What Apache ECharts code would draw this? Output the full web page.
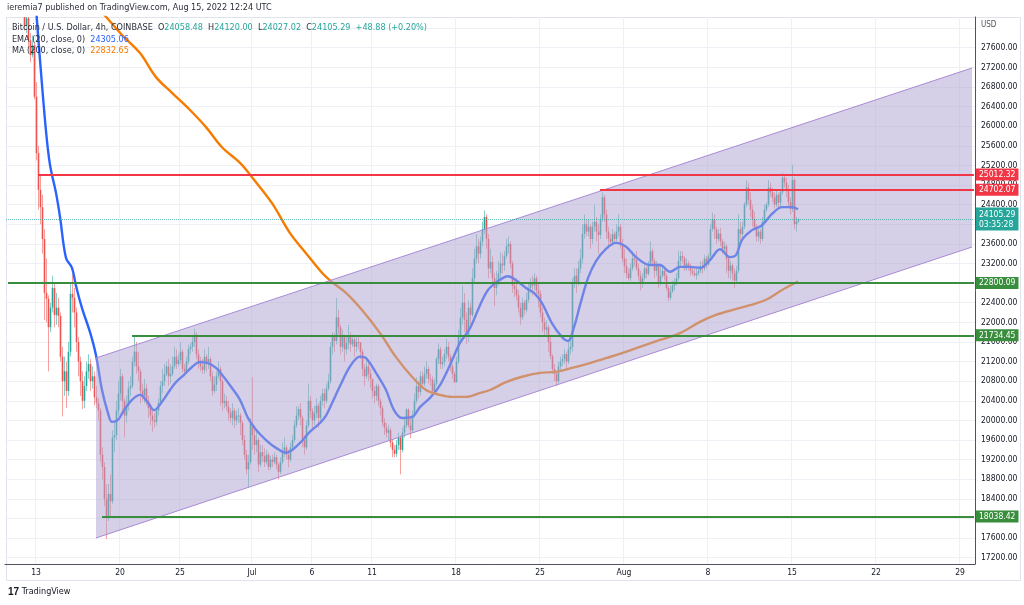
<!DOCTYPE html>
<html><head><meta charset="utf-8">
<script src="https://cdn.jsdelivr.net/npm/echarts@6/dist/echarts.min.js"></script>
<style>html,body{margin:0;padding:0;background:#fff}#c{width:1024px;height:605px}</style>
</head><body><div id="c"></div>
<script>
// ---------------- DATA ----------------
const firstCandleTime = '2022-06-10 12:00';   // UTC, 4h candles
const slotCount = 485;                          // time slots shown on the axis
const firstOpen = 30000;
const lastOpen = 24058.48;                      // open of the live candle (gap vs. prior close)

const closes = [
 29800,29500,29100,
 29300,29150,28950,29050,28800,28420,
 28050,28200,27750,27450,27650,26600,
 25450,24700,24350,23700,22600,22480,
 21900,22300,22700,22150,22300,22130,
 21300,20800,21000,20600,21400,22580,
 22500,22200,21600,21200,20800,20400,
 20700,21000,21150,20800,20900,20470,
 20350,20200,19300,19050,18400,18050,
 18500,18350,19650,19700,20200,20550,
 20900,20400,20100,20300,20650,20700,
 21200,21400,21100,21000,20600,20500,
 20650,20400,20250,20100,20000,19970,
 20200,20350,20700,20800,20950,21100,
 20900,20950,21100,21300,21150,21230,
 21400,21050,21000,21200,21450,21500,
 21600,21750,21350,21200,21100,21030,
 21300,21150,21250,20900,20600,20730,
 20900,21050,20800,20350,20400,20280,
 20150,20050,20200,20000,20100,20100,
 19950,19600,19300,19000,19150,19940,
 19700,19500,19600,19100,19350,19270,
 19150,19300,19050,19200,19150,19250,
 19100,18950,19150,19350,19450,19300,
 19200,19450,19600,19900,20100,20230,
 20050,19600,19450,19900,20400,20190,
 20000,20150,20300,20050,20400,20550,
 20400,20650,20800,21500,21700,21620,
 22100,21900,21500,21700,21450,21580,
 21700,21550,21650,21500,21600,21590,
 21400,21050,20900,21100,20950,20850,
 20600,20500,20700,20400,20250,19960,
 19850,19750,19800,19550,19400,19320,
 19500,19650,19400,19750,19900,20220,
 19900,19800,20100,20400,20700,20580,
 20900,20750,20950,21050,20850,20830,
 20600,20750,21250,21450,21150,21190,
 21350,21500,21300,21100,20950,20780,
 21200,21700,22100,22400,22050,21700,
 22300,22150,22900,23300,23550,23400,
 23650,23900,24150,23700,23100,23230,
 22900,22700,22850,23000,23200,23160,
 23350,23550,23600,23200,22750,22680,
 22550,22300,22100,22400,22250,22460,
 22700,22800,22750,22900,22650,22580,
 22200,22000,21850,21900,21600,21310,
 21050,20950,20800,21100,21200,21250,
 21350,21200,21450,21500,22800,22950,
 22800,23100,23300,23800,24000,23850,
 23950,23700,23950,24050,23850,23780,
 24100,24550,24200,23850,23700,23640,
 23800,23700,23850,23950,23600,23300,
 23150,23000,22900,23100,23300,23270,
 23100,22950,22800,22900,23100,22990,
 23200,23450,23250,23050,23150,22820,
 22950,23050,22950,22700,22500,22630,
 22750,22800,22900,23250,23350,23310,
 23100,23200,23150,23050,23000,22960,
 23000,23050,23150,23100,23300,23180,
 23350,23900,24100,23900,23700,23810,
 23650,23500,23550,23300,23050,23160,
 23000,22850,23050,23900,23800,23950,
 24400,24750,24500,24300,24100,23940,
 23750,23850,23700,24050,24300,24400,
 24750,24650,24550,24400,24600,24440,
 24650,24950,24850,24700,24450,24310,
 24900,24000,24056.41,24105.29
];
const highs = [
 30200,29900,29600,
 29400,29350,29200,29150,29100,28850,
 28550,28300,28250,27900,27850,27700,
 26900,25600,25000,24600,23900,23300,
 22550,22400,22950,22800,22600,22500,
 22200,21500,21300,21200,21600,22800,
 22980,22700,22300,21700,21300,21000,
 20900,21200,21350,21250,21100,21000,
 20700,20450,20250,19450,19150,18700,
 18700,18900,19800,20000,20400,20800,
 21050,20950,20450,20500,20800,20900,
 21300,21740,21600,21400,21050,20750,
 20850,20750,20500,20350,20200,20150,
 20250,20450,20800,21050,21150,21200,
 21250,21150,21300,21500,21450,21350,
 21600,21450,21150,21300,21550,21580,
 21700,21870,21800,21450,21300,21250,
 21450,21350,21500,21300,21000,20900,
 21000,21200,21100,20850,20550,20500,
 20400,20250,20350,20250,20200,20250,
 20150,20000,19700,19400,19300,20050,
 20880,19900,19800,19650,19500,19500,
 19430,19400,19350,19280,19300,19350,
 19300,19150,19250,19550,19650,19500,
 19400,19550,19700,20000,20290,20290,
 20350,20100,19700,20000,20750,20500,
 20250,20300,20450,20350,20500,20650,
 20650,20750,20950,21600,21800,21780,
 22500,22250,21950,21850,21750,21700,
 21950,21800,21750,21700,21700,21700,
 21600,21450,21150,21250,21200,21050,
 20850,20700,20750,20750,20450,20300,
 20050,19950,19900,19850,19600,19500,
 19600,19750,19700,19850,20050,20250,
 20250,20050,20200,20550,20880,20800,
 21000,21000,21100,21200,21100,20950,
 20900,20850,21300,21570,21500,21300,
 21450,21670,21600,21350,21150,21000,
 21300,21850,22300,22750,22600,22200,
 22450,22400,23100,23500,23800,23700,
 23750,24050,24280,24200,23800,23500,
 23350,23000,23050,23250,23430,23400,
 23450,23700,23750,23650,23250,22900,
 22900,22650,22400,22500,22450,22600,
 22800,22900,22950,23000,22950,22800,
 22650,22300,22100,22050,21950,21700,
 21350,21150,21000,21200,21300,21350,
 21450,21400,21600,21650,22900,23100,
 23100,23250,23500,24000,24200,24100,
 24100,24000,24050,24400,24150,24000,
 24200,24650,24600,24300,23950,23800,
 23900,23850,24000,24200,24000,23700,
 23500,23300,23100,23200,23450,23400,
 23450,23200,23050,23000,23200,23150,
 23250,23650,23500,23300,23250,23200,
 23200,23150,23100,23000,22750,22750,
 22850,22900,23000,23450,23450,23450,
 23350,23300,23250,23200,23150,23100,
 23100,23150,23250,23250,23380,23350,
 23400,24000,24240,24200,23950,23900,
 23930,23700,23650,23600,23350,23250,
 23200,23100,23150,24200,24050,24050,
 24450,24900,24850,24650,24400,24250,
 24000,23950,23900,24150,24400,24450,
 24900,24850,24750,24650,24700,24650,
 24700,25050,25000,24950,24800,24550,
 25210,24950,24150,24120.00
];
const lows = [
 29500,29300,29000,
 29000,29000,28850,28900,28700,28350,
 27950,27900,27600,27300,27400,26550,
 25300,24300,24000,23400,22050,22000,
 21000,21800,22200,21900,21950,21900,
 21200,20080,20500,20250,20500,21300,
 22200,21900,21400,20900,20500,20230,
 20250,20600,20850,20600,20650,20300,
 20250,20000,19150,18800,18250,17580,
 17950,18050,18300,19350,19600,20100,
 20400,20200,19650,19950,20200,20500,
 20650,21100,20950,20800,20350,20400,
 20350,20300,20050,19900,19770,19850,
 19900,20100,20300,20550,20700,20900,
 20700,20750,20900,21050,21050,21100,
 21150,20980,20900,20950,21150,21350,
 21400,21500,21250,21050,21000,20950,
 20950,21000,21050,20800,20500,20550,
 20600,20850,20300,20200,20250,20200,
 20000,19950,19900,19850,19900,19950,
 19700,19500,19200,18900,18630,19100,
 19400,19300,19350,18950,19050,19150,
 19050,19100,18980,19000,19050,19100,
 19000,18800,18900,19100,19250,19200,
 19040,19150,19400,19550,19850,20000,
 19900,19450,19300,19400,19850,20050,
 19780,19900,20050,19850,20000,20300,
 20250,20350,20600,20750,21350,21400,
 21550,21750,21350,21400,21200,21350,
 21450,21400,21500,21300,21400,21450,
 21250,20900,20700,20850,20800,20650,
 20450,20350,20400,20300,20100,19880,
 19700,19650,19600,19450,19250,19250,
 19250,19400,18900,19350,19650,19850,
 19850,19640,19750,20050,20350,20450,
 20500,20650,20700,20850,20750,20700,
 20490,20550,20700,21150,21050,21050,
 21100,21250,21200,21000,20850,20760,
 20770,21150,21600,21950,21800,21550,
 21600,21950,22100,22800,23200,23200,
 23300,23550,23800,23500,22900,23000,
 22800,22330,22550,22750,22900,23000,
 23050,23300,23400,23100,22600,22520,
 22450,22200,21950,22050,22150,22200,
 22400,22600,22550,22650,22550,22300,
 22100,21800,21700,21750,21400,21250,
 20950,20800,20700,20750,21000,21100,
 21150,21050,21150,21350,21400,22700,
 22600,22750,23000,23200,23700,23750,
 23750,23500,23600,23850,23650,23400,
 23700,24050,24050,23700,23500,23550,
 23550,23600,23650,23750,23500,23230,
 23000,22900,22850,22850,23050,23150,
 23050,22850,22650,22700,22850,22900,
 22950,23150,23150,22900,22950,22700,
 22750,22900,22850,22650,22430,22450,
 22600,22650,22750,22850,23150,23200,
 23050,23050,23050,22950,22950,22930,
 22870,22950,23000,23000,23050,23100,
 23150,23300,23850,23700,23600,23650,
 23550,23400,23400,23000,22900,22880,
 22850,22700,22800,23000,23650,23700,
 23900,24350,24400,24150,23950,23900,
 23650,23650,23600,23650,24000,24250,
 24350,24550,24450,24320,24350,24350,
 24350,24600,24750,24550,24350,24200,
 24250,23900,23850,24027.02
];

// EMA(20) and MA(200): [candle slot, value]
const emaSlots = [15,17,20,22,25,27,30,33,35,38,42,45,48,51,53,56,59,63,67,71,74,78,82,85,89,93,97,101,105,108,113,117,121,125,130,135,140,147,152,157,160,163,167,172,177,180,185,190,194,198,203,207,212,217,222,227,232,237,241,246,251,255,260,264,268,273,278,281,284,287,291,295,300,305,310,315,322,327,332,337,342,347,352,357,362,365,368,373,378,383,388,393,396];
const emaValues = [28410,27350,25900,25210,24640,24150,23310,23110,22740,22290,21800,21330,20620,20150,19970,20010,20210,20420,20520,20360,20210,20380,20620,20780,20930,21090,21190,21170,21070,20930,20660,20420,20050,19810,19600,19440,19340,19540,19770,19950,20100,20350,20700,21100,21300,21270,20970,20620,20210,20050,20070,20270,20460,20720,21130,21580,21880,22350,22660,22840,22940,22860,22700,22600,22390,21980,21700,21620,21900,22350,22900,23250,23500,23620,23540,23330,23170,23170,23030,23130,23130,23110,23270,23490,23330,23370,23680,23880,23980,24210,24350,24350,24305.06];
const maSlots = [47,50,58,67,75,83,92,100,108,117,123,133,142,150,158,163,170,178,187,195,203,210,217,223,230,237,242,250,258,267,275,283,292,300,308,317,327,337,347,355,363,372,380,388,396];
const maValues = [28370,28230,27860,27490,27000,26680,26330,25980,25570,25250,24960,24430,23820,23410,23010,22820,22600,22250,21780,21290,20890,20620,20520,20480,20480,20560,20620,20780,20890,20970,20990,21070,21170,21270,21370,21500,21640,21780,22010,22150,22250,22350,22460,22660,22832.65];

// Horizontal levels (price, start time)
const levelPrices = [25012.32, 24702.07, 22800.09, 21734.45, 18038.42];
const levelStarts = ['2022-06-13 04:00','2022-07-30 00:00','2022-06-10 16:00','2022-06-21 00:00','2022-06-18 12:00'];
const countdown = '03:35:28';

// Parallel channel
const channelTimes = ['2022-06-18 00:00','2022-08-30 00:00'];
const channelUpper = [21273, 27186];
const channelLower = [17603, 23536];

// Axis ticks
const tickDates = ['2022-06-13','2022-06-20','2022-06-25','2022-07-01','2022-07-06','2022-07-11','2022-07-18','2022-07-25','2022-08-01','2022-08-08','2022-08-15','2022-08-22','2022-08-29'];
const tickLabels = ['13','20','25','Jul','6','11','18','25','Aug','8','15','22','29'];
const priceTicks = [];
for (let v = 17200; v <= 27600; v += 400) priceTicks.push(v);
const gridTicks = priceTicks.concat([28000]);
const emaName = 'EMA (20, close, 0)', maName = 'MA (200, close, 0)';

// ---------------- BUILD ----------------
const H4 = 4 * 3600 * 1000;
const t0 = Date.parse(firstCandleTime.replace(' ', 'T') + ':00Z');
const slotOf = s => Math.round((Date.parse((s.length === 10 ? s + ' 00:00' : s).replace(' ', 'T') + ':00Z') - t0) / H4);
const categories = Array.from({length: slotCount}, (_, i) => new Date(t0 + i * H4).toISOString().slice(0, 16));
const tickMap = {};
tickDates.forEach((d, k) => { tickMap[slotOf(d)] = tickLabels[k]; });

const lastI = closes.length - 1;
const candleData = closes.map((c, i) => {
  const o = i === 0 ? firstOpen : (i === lastI ? lastOpen : closes[i - 1]);
  return [i, o, c, lows[i], highs[i]];
});
const lastClose = closes[lastI];
const change = lastClose - closes[lastI - 1];

const FONT = "'Liberation Sans Narrow','DejaVu Sans Condensed','Liberation Sans',sans-serif";
const UP = '#26a69a', DOWN = '#ef5350', RED = '#f23645', GREEN = '#388e3c';

const levelLines = levelPrices.map((p, k) => {
  const col = p > lastClose ? RED : GREEN;
  return [
    { coord: [slotOf(levelStarts[k]), p], lineStyle: { color: col, width: 2, type: 'solid' },
      label: { show: true, position: 'end', distance: 2, formatter: p.toFixed(2), backgroundColor: col,
               color: '#fff', padding: [2, 3, 1, 3], fontSize: 8.5, fontFamily: FONT } },
    { coord: [slotCount - 1, p] }
  ];
});
levelLines.push([
  { coord: [0, lastClose], lineStyle: { color: 'rgba(38,166,154,0.7)', width: 1, type: 'dotted' },
    label: { show: true, position: 'end', distance: 2,
             formatter: '{a|' + lastClose.toFixed(2) + '}\n{a|' + countdown + '}',
             backgroundColor: UP, padding: [2, 3, 1, 3],
             rich: { a: { color: '#fff', fontSize: 8.5, lineHeight: 10, fontFamily: FONT } } } },
  { coord: [slotCount - 1, lastClose] }
]);

const cS = slotOf(channelTimes[0]), cE = slotOf(channelTimes[1]);

function renderCandle(params, api) {
  const i = api.value(0), o = api.value(1), c = api.value(2), l = api.value(3), h = api.value(4);
  const pO = api.coord([i, o]), pC = api.coord([i, c]), pL = api.coord([i, l]), pH = api.coord([i, h]);
  const x = Math.round(pO[0]) + 0.5;
  const col = c >= o ? UP : DOWN;
  const top = Math.min(pO[1], pC[1]), bh = Math.max(1, Math.abs(pO[1] - pC[1]));
  return { type: 'group', children: [
    { type: 'line', shape: { x1: x, y1: pH[1], x2: x, y2: pL[1] }, style: { stroke: col, lineWidth: 1, opacity: 0.55 } },
    { type: 'rect', shape: { x: x - 0.8, y: top, width: 1.6, height: bh }, style: { fill: col } }
  ] };
}

const chart = echarts.init(document.getElementById('c'));
chart.setOption({
  animation: false,
  backgroundColor: '#ffffff',
  grid: { left: 5, right: 49, top: 17, bottom: 41, containLabel: false },
  xAxis: {
    type: 'category', data: categories, boundaryGap: true,
    axisLine: { show: true, lineStyle: { color: '#50535e', width: 1 } },
    axisTick: { show: false },
    axisLabel: { interval: i => tickMap[i] !== undefined, formatter: (v, i) => tickMap[i] || '',
                 color: '#131722', fontSize: 8.5, fontFamily: FONT, margin: 4 },
    splitLine: { show: true, interval: i => tickMap[i] !== undefined, lineStyle: { color: '#eef0f5', width: 1 } }
  },
  yAxis: {
    type: 'value', position: 'right', min: 17072, max: 28226, scale: true,
    axisLine: { show: true, lineStyle: { color: '#50535e', width: 1 } },
    axisTick: { show: false, customValues: gridTicks },
    axisLabel: { customValues: priceTicks, formatter: v => v.toFixed(2), color: '#131722',
                 fontSize: 8.5, fontFamily: FONT, margin: 6 },
    splitLine: { show: true, lineStyle: { color: '#eef0f5', width: 1 } }
  },
  series: [
    { type: 'custom', z: 2, data: candleData, silent: true, clip: true, renderItem: renderCandle,
      encode: { x: 0, y: [1, 2, 3, 4] } },
    { type: 'line', z: 3, data: emaSlots.map((s, k) => [s, emaValues[k]]), smooth: 0.35, showSymbol: false,
      silent: true, lineStyle: { color: '#2962ff', width: 2.4 } },
    { type: 'line', z: 3, data: maSlots.map((s, k) => [s, maValues[k]]), smooth: 0.35, showSymbol: false,
      silent: true, lineStyle: { color: '#f57c00', width: 2.4 } },
    { type: 'custom', z: 4, silent: true,
      data: [[cS, channelUpper[0], cE, channelUpper[1], cE, channelLower[1], cS, channelLower[0]]],
      renderItem: (params, api) => {
        const a = api.coord([api.value(0), api.value(1)]);
        const b = api.coord([api.value(2), api.value(3)]);
        const c = api.coord([api.value(4), api.value(5)]);
        const d = api.coord([api.value(6), api.value(7)]);
        return { type: 'group', children: [
          { type: 'polygon', shape: { points: [a, b, c, d] }, style: { fill: 'rgba(174,165,209,0.52)' } },
          { type: 'line', shape: { x1: a[0], y1: a[1], x2: b[0], y2: b[1] }, style: { stroke: '#a98bd6', lineWidth: 1 } },
          { type: 'line', shape: { x1: d[0], y1: d[1], x2: c[0], y2: c[1] }, style: { stroke: '#a98bd6', lineWidth: 1 } }
        ] };
      } },
    { type: 'line', z: 6, data: [], silent: true,
      markLine: { silent: true, symbol: ['none', 'none'], animation: false, data: levelLines } }
  ],
  graphic: [
    { type: 'rect', z: 0, silent: true, shape: { x: 6.5, y: 17.5, width: 1014, height: 563 },
      style: { fill: 'none', stroke: '#e0e3eb', lineWidth: 1 } },
    { type: 'text', z: 100, left: 7, top: 3, silent: true,
      style: { text: 'ieremia7 published on TradingView.com, Aug 15, 2022 12:24 UTC', fill: '#2a2e39', fontSize: 9, fontFamily: FONT } },
    { type: 'text', z: 100, left: 12, top: 23, silent: true,
      style: { text: 'Bitcoin / U.S. Dollar, 4h, COINBASE  O{v|' + lastOpen.toFixed(2) + '}  H{v|' + highs[lastI].toFixed(2) +
               '}  L{v|' + lows[lastI].toFixed(2) + '}  C{v|' + lastClose.toFixed(2) + '}  {v|' + (change >= 0 ? '+' : '') + change.toFixed(2) +
               ' (' + (change >= 0 ? '+' : '') + (change / closes[lastI - 1] * 100).toFixed(2) + '%)}',
               fill: '#2a2e39', fontSize: 9, fontFamily: FONT, rich: { v: { fill: UP, fontSize: 9, fontFamily: FONT } } } },
    { type: 'text', z: 100, left: 12, top: 35, silent: true,
      style: { text: emaName + '  {v|' + emaValues[emaValues.length - 1].toFixed(2) + '}', fill: '#2a2e39', fontSize: 9, fontFamily: FONT,
               rich: { v: { fill: '#2962ff', fontSize: 9, fontFamily: FONT } } } },
    { type: 'text', z: 100, left: 12, top: 46, silent: true,
      style: { text: maName + '  {v|' + maValues[maValues.length - 1].toFixed(2) + '}', fill: '#2a2e39', fontSize: 9, fontFamily: FONT,
               rich: { v: { fill: '#f57c00', fontSize: 9, fontFamily: FONT } } } },
    { type: 'text', z: 100, left: 981, top: 21, silent: true,
      style: { text: 'USD', fill: '#50535e', fontSize: 8, fontFamily: FONT } },
    { type: 'text', z: 100, left: 8, top: 587, silent: true,
      style: { text: '{l|17} TradingView', fill: '#131722', fontSize: 9, fontFamily: FONT,
               rich: { l: { fontSize: 10, fontWeight: 'bold', fill: '#131722', fontFamily: 'Liberation Sans' } } } }
  ]
});
</script>
</body></html>
